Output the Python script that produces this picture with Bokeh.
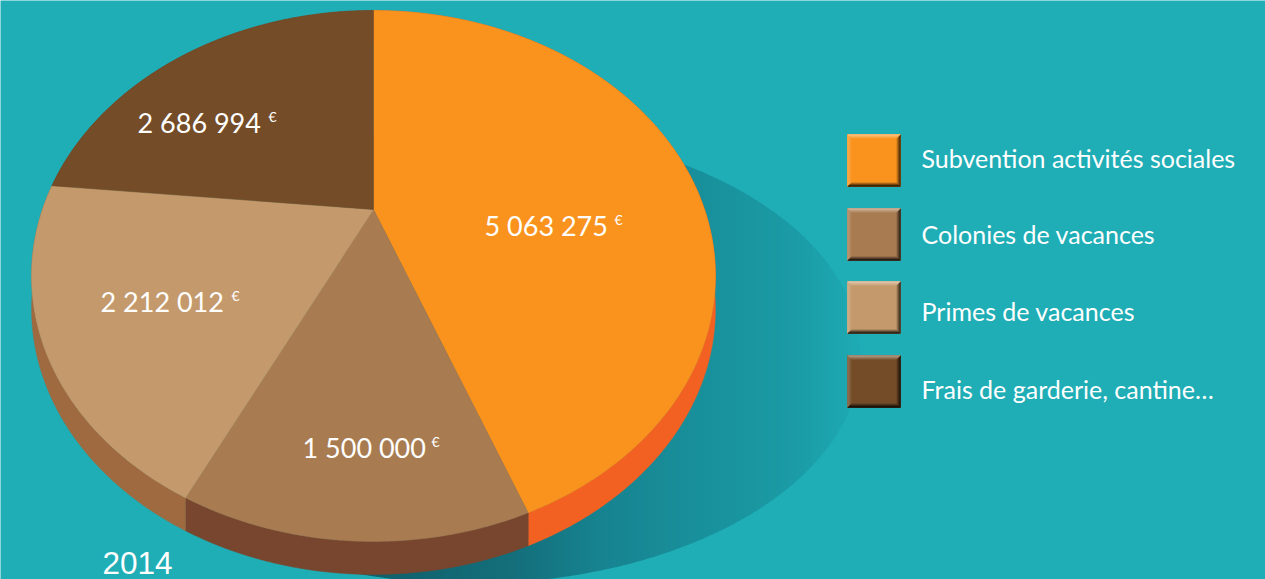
import numpy as np
from bokeh.plotting import figure
from bokeh.models import Range1d
from bokeh.core.properties import value
from bokeh.embed import file_html
from bokeh.resources import INLINE

categories = ["Subvention activités sociales", "Colonies de vacances", "Primes de vacances", "Frais de garderie, cantine…"]
amounts = [5063275, 1500000, 2212012, 2686994]
year = "2014"

BG = "#1FADB6"
top_colors = ["#F9931D", "#A87B50", "#C49A6C", "#744C28"]
side_colors = ["#F26022", "#78462E", "#9F6A40", "#744C28"]
TEXT_FONT = "Lato"

W, H = 1265, 579
p = figure(width=W, height=H, output_backend="svg", toolbar_location=None,
           x_range=Range1d(0, W), y_range=Range1d(H, 0),
           background_fill_color=BG, border_fill_color=BG, min_border=0,
           outline_line_color=None)
p.axis.visible = False
p.grid.visible = False

def mix(c1, c2, t):
    a = [int(c1[i:i + 2], 16) for i in (1, 3, 5)]
    b = [int(c2[i:i + 2], 16) for i in (1, 3, 5)]
    return "#%02x%02x%02x" % tuple(round(u + (v - u) * t) for u, v in zip(a, b))

stops_x = [340, 520, 600, 700, 800, 860]
stops_c = ["#0F5C67", "#14707C", "#178390", "#18909B", "#1B9CA6", "#1EABB4"]
def shadow_color(x):
    i = min(np.searchsorted(stops_x, x, side="right") - 1, len(stops_x) - 2)
    i = max(i, 0)
    t = (x - stops_x[i]) / (stops_x[i + 1] - stops_x[i])
    return mix(stops_c[i], stops_c[i + 1], t)

scx, scy, sa, sb = 470, 355, 390, 228
edges = np.arange(340, 861, 4)
xs, ys, cs = [], [], []
for x0, x1 in zip(edges[:-1], edges[1:]):
    h0 = sb * np.sqrt(max(0, 1 - ((x0 - scx) / sa) ** 2))
    h1 = sb * np.sqrt(max(0, 1 - ((x1 - scx) / sa) ** 2))
    xs.append([x0, x1 + 0.6, x1 + 0.6, x0])
    ys.append([scy - h0, scy - h1, scy + h1, scy + h0])
    cs.append(shadow_color((x0 + x1) / 2))
p.patches(xs, ys, fill_color=cs, line_color=None)

APEX_X, APEX_Y = 373, 209
K, A, B = 0.2505, 331, 248.8
DEPTH = 33

def project(theta):
    d = 1 + K * np.cos(theta)
    return APEX_X + A * np.sin(theta) / d, APEX_Y - B * np.cos(theta) / d

total = sum(amounts)
bounds = np.concatenate([[0], np.cumsum(amounts)]) / total * 2 * np.pi

def arc(t0, t1):
    th = np.linspace(t0, t1, max(3, int((t1 - t0) * 180)))
    return project(th)

# side wall: the rim arc and its copy one depth lower, closed with vertical edges
for k in range(4):
    x, y = arc(bounds[k], bounds[k + 1])
    p.patch([*x, *x[::-1]], [*y, *(y[::-1] + DEPTH)],
            fill_color=side_colors[k], line_color=side_colors[k], line_width=0.5)
for k in range(4):
    x, y = arc(bounds[k], bounds[k + 1])
    p.patch([APEX_X, *x], [APEX_Y, *y], fill_color=top_colors[k], line_color=top_colors[k], line_width=0.5)

label_x = [484, 302, 100, 137]
label_y = [225, 447, 301, 122]
euro_x = [614, 431, 231, 268]
labels = [f"{v:,}".replace(",", " ") for v in amounts]
p.text(label_x, label_y, text=labels, text_color="#FFFFFF", text_font=value(TEXT_FONT),
       text_font_size="27px", text_baseline="alphabetic", text_align="left")
p.text(euro_x, [y - 6 for y in label_y], text=["€"] * 4, text_color="#FFFFFF",
       text_font=value(TEXT_FONT), text_font_size="14px", text_baseline="alphabetic", text_align="left")

sw_top = [134, 208, 281, 355]
sw_x0, sw_x1, sw_h = 847, 900, 52
leg_base = [157, 233, 310, 388]
for yt, c in zip(sw_top, top_colors):
    x0, x1, y0, y1 = sw_x0, sw_x1, yt, yt + sw_h
    p.quad(left=[x0], right=[x1], top=[y0], bottom=[y1], fill_color=c, line_color=None)
    # bevels painted from the widest, faintest step to the narrow, strongest edge
    for w in [4, 3, 2, 1]:
        f = (5 - w) / 4
        p.patch([x0, x0 + w, x0 + w, x0], [y0, y0 + w, y1 - w, y1],
                fill_color=mix(c, "#FFFFFF", 0.2 * f), line_color=None)
        p.patch([x1, x1 - w, x1 - w, x1], [y0, y0 + w, y1 - w, y1],
                fill_color=mix(c, "#000000", 0.72 * f), line_color=None)
        p.patch([x0, x1, x1 - w, x0 + w], [y0, y0, y0 + w, y0 + w],
                fill_color=mix(c, "#FFFFFF", 0.42 * f), line_color=None)
        p.patch([x0, x1, x1 - w, x0 + w], [y1, y1, y1 - w, y1 - w],
                fill_color=mix(c, "#000000", 0.85 * f), line_color=None)
p.text([921] * 4, leg_base, text=categories, text_color="#FFFFFF", text_font=value(TEXT_FONT),
       text_font_size="25px", text_baseline="alphabetic", text_align="left")

p.text([102], [562], text=[year], text_color="#FFFFFF", text_font=value("Liberation Sans"),
       text_font_size="31.5px", text_baseline="alphabetic", text_align="left")

open("out.html", "w").write(file_html(p, INLINE))
